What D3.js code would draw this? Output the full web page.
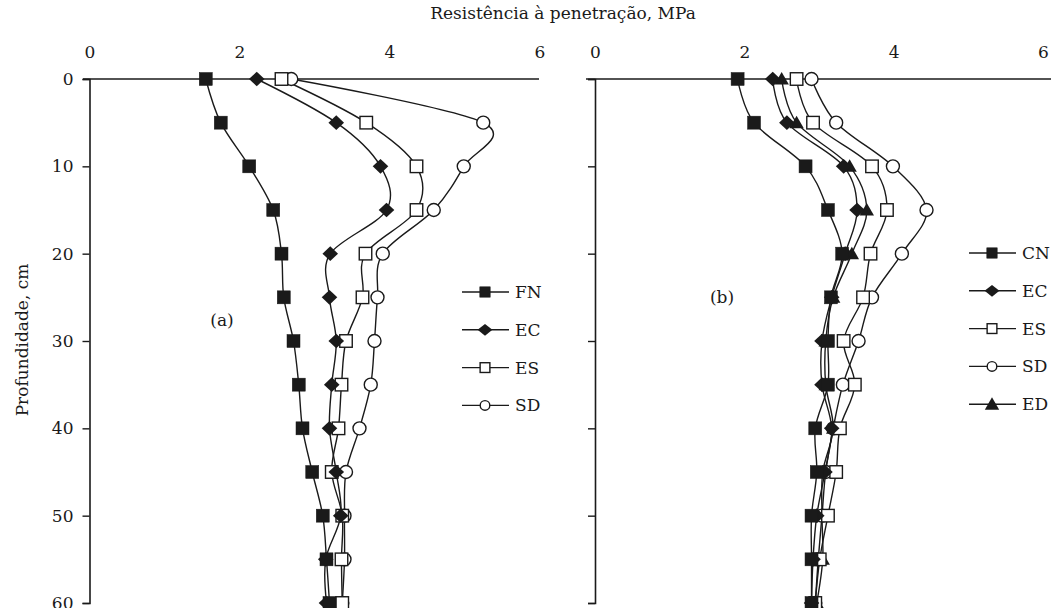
<!DOCTYPE html>
<html>
<head>
<meta charset="utf-8">
<script src="https://cdn.jsdelivr.net/npm/d3@7"></script>
<style>
body { margin: 0; background: #fff; }
svg { display: block; font-family: "DejaVu Serif", serif; }
</style>
</head>
<body>
<svg id="chart" width="1056" height="608"></svg>
<script>
// ---- data ----
const depths = [0, 5, 10, 15, 20, 25, 30, 35, 40, 45, 50, 55, 60];
const xTicks = [0, 2, 4, 6];
const yTicks = [0, 10, 20, 30, 40, 50, 60];

// panel (a)
const namesA = ['FN', 'EC', 'ES', 'SD'];
const fnA = [1.55, 1.75, 2.13, 2.45, 2.56, 2.59, 2.72, 2.79, 2.84, 2.97, 3.11, 3.16, 3.20];
const ecA = [2.23, 3.29, 3.88, 3.96, 3.21, 3.20, 3.29, 3.23, 3.20, 3.29, 3.35, 3.15, 3.16];
const esA = [2.56, 3.69, 4.36, 4.36, 3.68, 3.64, 3.42, 3.36, 3.32, 3.23, 3.37, 3.36, 3.37];
const sdA = [2.69, 5.25, 4.99, 4.59, 3.91, 3.84, 3.80, 3.75, 3.60, 3.42, 3.40, 3.40, 3.37];

// panel (b)
const namesB = ['CN', 'EC', 'ES', 'SD', 'ED'];
const cnB = [1.91, 2.13, 2.82, 3.12, 3.31, 3.16, 3.12, 3.12, 2.95, 2.97, 2.90, 2.90, 2.90];
const ecB = [2.38, 2.57, 3.33, 3.51, 3.35, 3.17, 3.04, 3.04, 3.17, 3.08, 2.97, 2.92, 2.90];
const esB = [2.70, 2.92, 3.71, 3.91, 3.69, 3.59, 3.33, 3.48, 3.28, 3.23, 3.12, 3.01, 2.95];
const sdB = [2.90, 3.23, 3.99, 4.44, 4.11, 3.71, 3.53, 3.32, 3.19, 3.09, 3.04, 2.99, 2.95];
const edB = [2.50, 2.70, 3.41, 3.64, 3.44, 3.19, 3.09, 3.09, 3.19, 3.05, 3.04, 3.05, 2.97];

const markerOf = { FN: 'square', CN: 'square', EC: 'diamond', ES: 'openSquare', SD: 'circle', ED: 'triangle' };

const panels = [
    { names: namesA, values: [fnA, ecA, esA, sdA], x0: 89.5, x6: 539.5, lineL: 83, lineR: 539,
      yLabels: true, tag: '(a)', tagX: 222, tagY: 320, legX: 485, legY: 292 },
    { names: namesB, values: [cnB, ecB, esB, sdB, edB], x0: 595, x6: 1043, lineL: 586, lineR: 1051,
      yLabels: false, tag: '(b)', tagX: 722, tagY: 297, legX: 992, legY: 253 }
];

const ink = '#1a1a1a';
const fontSize = 17;
const svg = d3.select('#chart');
const y = d3.scaleLinear().domain([0, 60]).range([79, 603]);
const curve = d3.curveCardinal.tension(0);

// draw one marker into a group
function drawMarker(g, type, cx, cy, small) {
    const k = small ? 0.8 : 1;
    if (type === 'square' || type === 'openSquare') {
        const s = (type === 'square' ? 13 : 12.5) * (small && type === 'openSquare' ? 0.78 : k);
        g.append('rect')
            .attr('x', cx - s / 2).attr('y', cy - s / 2)
            .attr('width', s).attr('height', s)
            .attr('fill', type === 'square' ? ink : '#fff')
            .attr('stroke', ink).attr('stroke-width', type === 'square' ? 0.5 : 1.4);
    } else if (type === 'diamond') {
        const h = 7.8 * (small ? 0.95 : 1);
        const v = 7.3 * k;
        g.append('path')
            .attr('d', `M${cx},${cy - v}L${cx + h},${cy}L${cx},${cy + v}L${cx - h},${cy}Z`)
            .attr('fill', ink);
    } else if (type === 'circle') {
        g.append('circle')
            .attr('cx', cx).attr('cy', cy).attr('r', small ? 4.8 : 6.5)
            .attr('fill', '#fff').attr('stroke', ink).attr('stroke-width', 1.4);
    } else if (type === 'triangle') {
        const w = 7.2, t = 7, b = 5.5;
        g.append('path')
            .attr('d', `M${cx},${cy - t}L${cx + w},${cy + b}L${cx - w},${cy + b}Z`)
            .attr('fill', ink);
    }
}

panels.forEach(p => {
    const x = d3.scaleLinear().domain([0, 6]).range([p.x0, p.x6]);
    const g = svg.append('g');

    // top axis line + labels
    g.append('line')
        .attr('x1', p.lineL).attr('x2', p.lineR)
        .attr('y1', y(0)).attr('y2', y(0))
        .attr('stroke', ink).attr('stroke-width', 1.6);

    const xa = g.append('g')
        .attr('transform', `translate(0,${y(0) - 21})`)
        .call(d3.axisTop(x).tickValues(xTicks).tickSize(0).tickPadding(0).tickFormat(d3.format('d')));
    xa.select('.domain').remove();
    xa.selectAll('text').attr('font-size', fontSize).attr('fill', ink)
        .attr('font-family', '"DejaVu Serif", serif').attr('dy', '0');

    // left axis
    const ya = g.append('g')
        .attr('transform', `translate(${x(0)},0)`)
        .call(d3.axisLeft(y).tickValues(yTicks).tickSize(7).tickPadding(9)
            .tickFormat(p.yLabels ? d3.format('d') : () => ''));
    ya.select('.domain').attr('stroke', ink).attr('stroke-width', 1.6);
    ya.selectAll('.tick line').attr('stroke', ink).attr('stroke-width', 1.4);
    ya.selectAll('text').attr('font-size', fontSize).attr('fill', ink)
        .attr('font-family', '"DejaVu Serif", serif');

    // series lines (last series drawn first so the first ends up on top)
    const line = d3.line()
        .x(d => x(d[1]))
        .y(d => y(d[0]))
        .curve(curve);

    const order = d3.range(p.names.length).reverse();
    order.forEach(i => {
        const pts = depths.map((d, j) => [d, p.values[i][j]]);
        g.append('path')
            .attr('d', line(pts))
            .attr('fill', 'none')
            .attr('stroke', ink)
            .attr('stroke-width', 1.4);
    });
    order.forEach(i => {
        const mg = g.append('g');
        depths.forEach((d, j) => drawMarker(mg, markerOf[p.names[i]], x(p.values[i][j]), y(d), false));
    });

    // panel tag
    g.append('text')
        .attr('x', p.tagX).attr('y', p.tagY).attr('dy', '0.35em')
        .attr('text-anchor', 'middle').attr('font-size', fontSize).attr('fill', ink)
        .text(p.tag);

    // legend
    p.names.forEach((n, i) => {
        const ly = p.legY + i * 37.8;
        const lg = g.append('g');
        lg.append('line')
            .attr('x1', p.legX - 23).attr('x2', p.legX + 24)
            .attr('y1', ly).attr('y2', ly)
            .attr('stroke', ink).attr('stroke-width', 1.4);
        drawMarker(lg, markerOf[n], p.legX, ly, true);
        lg.append('text')
            .attr('x', p.legX + 30).attr('y', ly).attr('dy', '0.35em')
            .attr('font-size', fontSize).attr('fill', ink)
            .text(n);
    });
});

// axis titles
svg.append('text')
    .attr('x', 563).attr('y', 19)
    .attr('text-anchor', 'middle').attr('font-size', fontSize).attr('fill', ink)
    .text('Resistência à penetração, MPa');

svg.append('text')
    .attr('transform', 'translate(22,340) rotate(-90)')
    .attr('text-anchor', 'middle').attr('dy', '0.35em')
    .attr('font-size', fontSize).attr('fill', ink)
    .text('Profundidade, cm');
</script>
</body>
</html>
